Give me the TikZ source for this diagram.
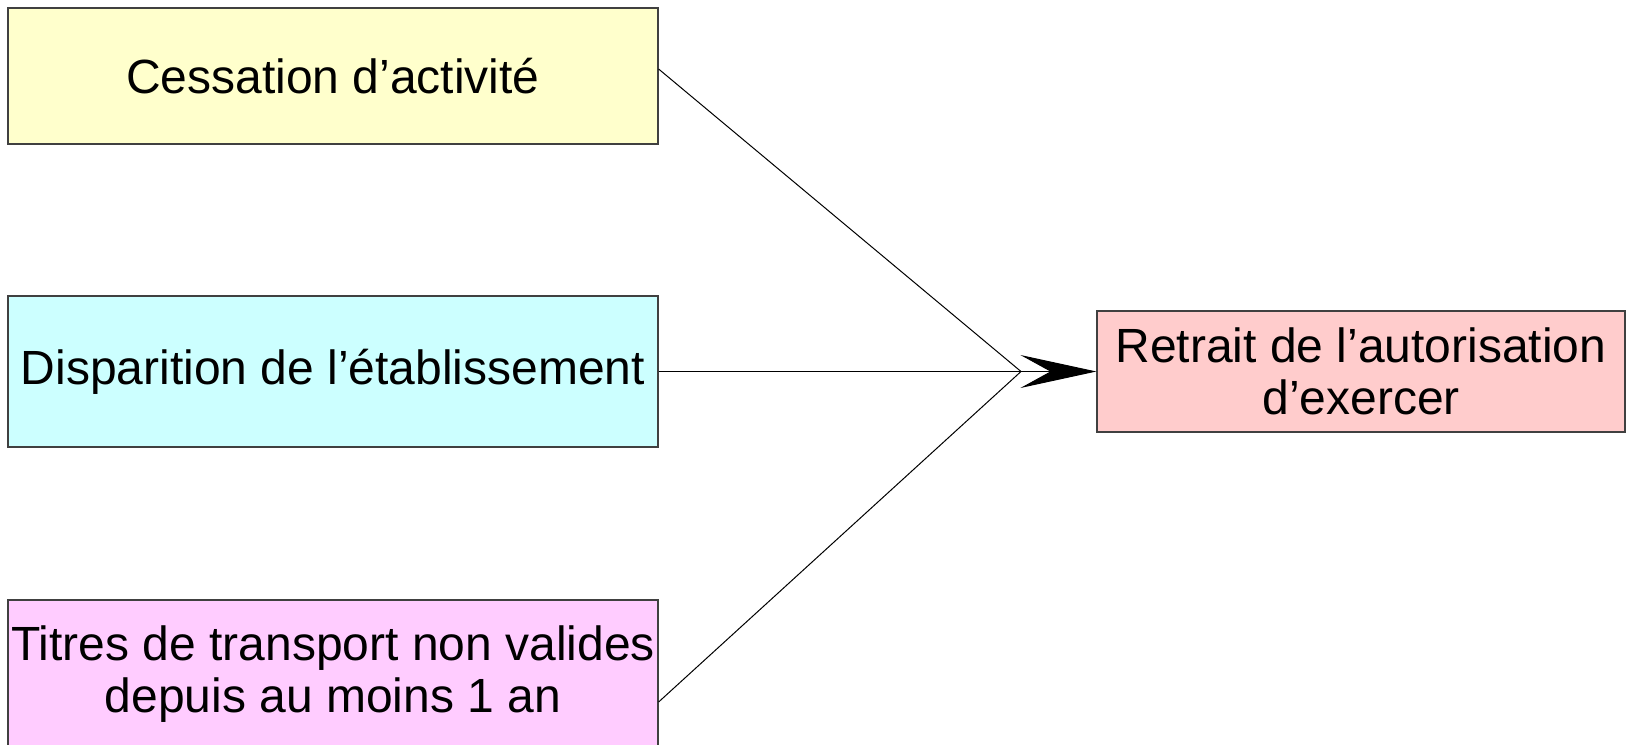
\documentclass[tikz,border=0pt]{standalone}
\usepackage{fontspec}
\setmainfont{Liberation Sans}
\usepackage{tikz}
\usetikzlibrary{positioning, arrows.meta, calc}

\begin{document}
\begin{tikzpicture}[
    x=0.5pt, y=-0.5pt,
    font=\fontsize{24}{26}\selectfont,
    cause/.style={draw=black!75, line width=0.6pt, minimum width=325pt, align=center, inner sep=0pt},
    link/.style={draw=black, line width=0.5pt},
    >={Stealth[length=38pt, width=16.5pt, inset=15pt]}
]
    \useasboundingbox (0,0) rectangle (1626,744);

    % Three causes on the left, one result on the right.
    \node[cause, fill={rgb,255:red,255;green,255;blue,204}, minimum height=68pt] (cessation) at (333,76) {Cessation d’activité};
    \node[cause, fill={rgb,255:red,204;green,255;blue,255}, minimum height=75.5pt] (disparition) at (333,371.5) {Disparition de l’établissement};
    \node[cause, fill={rgb,255:red,255;green,204;blue,255}, minimum height=74pt] (titres) at (333,674) {Titres de transport non valides\\depuis au moins 1 an};
    \node[cause, fill={rgb,255:red,255;green,204;blue,204}, minimum width=264pt, minimum height=60.5pt] (retrait) at (1361,371.5) {Retrait de l’autorisation\\d’exercer};

    \coordinate (hub) at (1021,371.5);

    \path[link]
        ([yshift=3.5pt]cessation.east) edge (hub)
        (disparition.east) edge (hub)
        ([yshift=-14pt]titres.east) edge (hub);
    \draw[link, ->] (hub) -- (retrait);
\end{tikzpicture}
\end{document}
